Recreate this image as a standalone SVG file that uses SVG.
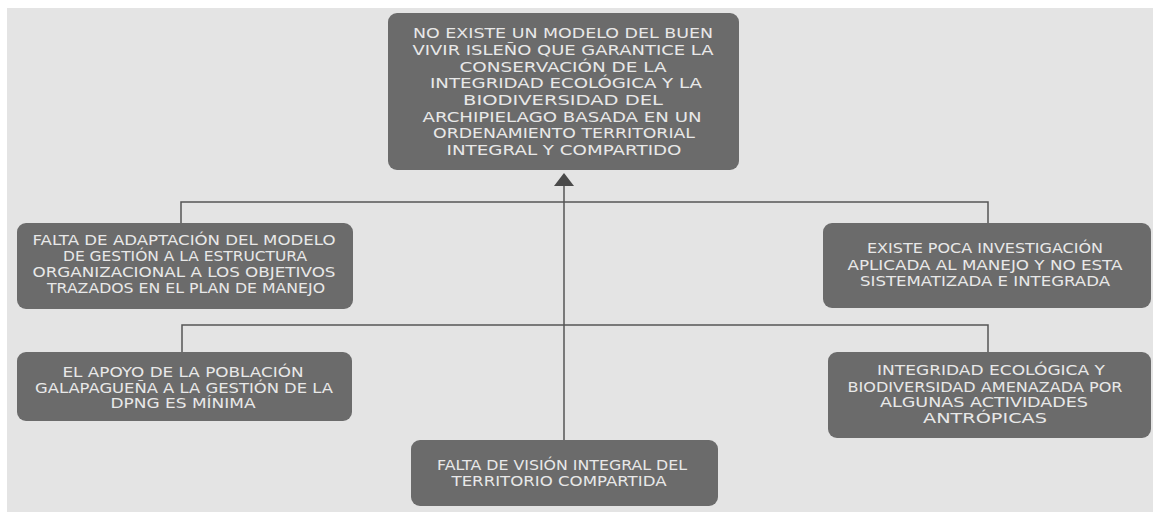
<svg xmlns="http://www.w3.org/2000/svg" width="1153" height="512" viewBox="0 0 1153 512">
<defs>
<style>
.box{fill:#6b6b6b;}
.t{font-family:"DejaVu Sans","Liberation Sans",sans-serif;fill:#e8e8e8;text-anchor:middle;font-size:13.5px;}
.tt{font-size:14.5px;}
.ln{stroke:#565656;stroke-width:1.5;fill:none;}
</style>
</defs>
<rect x="0" y="0" width="1153" height="512" fill="#ffffff"/>
<rect x="7" y="8" width="1146" height="504" fill="#e4e4e4"/>
<g id="connectors">
<polyline class="ln" points="181,223 181,202 988,202 988,223"/>
<polyline class="ln" points="182,352 182,325 988,325 988,352"/>
<line class="ln" x1="564" y1="440" x2="564" y2="185"/>
<polygon points="564,173 554,186 574,186" fill="#4a4a4a"/>
</g>
<g id="n-top">
<rect class="box" x="388" y="13" width="351" height="157" rx="9"/>
<text class="t tt" x="563" y="38" textLength="300" lengthAdjust="spacingAndGlyphs">NO EXISTE UN MODELO DEL BUEN</text>
<text class="t tt" x="563" y="55" textLength="301" lengthAdjust="spacingAndGlyphs">VIVIR ISLEÑO QUE GARANTICE LA</text>
<text class="t tt" x="563" y="71.7" textLength="207" lengthAdjust="spacingAndGlyphs">CONSERVACIÓN DE LA</text>
<text class="t tt" x="566" y="88.3" textLength="272" lengthAdjust="spacingAndGlyphs">INTEGRIDAD ECOLÓGICA Y LA</text>
<text class="t tt" x="563" y="105" textLength="200" lengthAdjust="spacingAndGlyphs">BIODIVERSIDAD DEL</text>
<text class="t tt" x="562" y="121.7" textLength="279" lengthAdjust="spacingAndGlyphs">ARCHIPIELAGO BASADA EN UN</text>
<text class="t tt" x="564" y="138.3" textLength="262" lengthAdjust="spacingAndGlyphs">ORDENAMIENTO TERRITORIAL</text>
<text class="t tt" x="564" y="155" textLength="235" lengthAdjust="spacingAndGlyphs">INTEGRAL Y COMPARTIDO</text>
</g>
<g id="n-left1">
<rect class="box" x="17" y="223" width="336" height="86" rx="9"/>
<text class="t" x="184" y="245" textLength="303" lengthAdjust="spacingAndGlyphs">FALTA DE ADAPTACIÓN DEL MODELO</text>
<text class="t" x="185" y="261" textLength="244" lengthAdjust="spacingAndGlyphs">DE GESTIÓN A LA ESTRUCTURA</text>
<text class="t" x="184" y="277" textLength="303" lengthAdjust="spacingAndGlyphs">ORGANIZACIONAL A LOS OBJETIVOS</text>
<text class="t" x="186" y="293" textLength="278" lengthAdjust="spacingAndGlyphs">TRAZADOS EN EL PLAN DE MANEJO</text>
</g>
<g id="n-right1">
<rect class="box" x="823" y="223" width="328" height="85" rx="9"/>
<text class="t" x="985" y="253" textLength="236" lengthAdjust="spacingAndGlyphs">EXISTE POCA INVESTIGACIÓN</text>
<text class="t" x="985" y="270" textLength="275" lengthAdjust="spacingAndGlyphs">APLICADA AL MANEJO Y NO ESTA</text>
<text class="t" x="985" y="286" textLength="250" lengthAdjust="spacingAndGlyphs">SISTEMATIZADA E INTEGRADA</text>
</g>
<g id="n-left2">
<rect class="box" x="17" y="352" width="335" height="69" rx="9"/>
<text class="t" x="183" y="377" textLength="241" lengthAdjust="spacingAndGlyphs">EL APOYO DE LA POBLACIÓN</text>
<text class="t" x="184" y="393" textLength="298" lengthAdjust="spacingAndGlyphs">GALAPAGUEÑA A LA GESTIÓN DE LA</text>
<text class="t" x="183" y="408" textLength="145" lengthAdjust="spacingAndGlyphs">DPNG ES MÍNIMA</text>
</g>
<g id="n-right2">
<rect class="box" x="828" y="352" width="323" height="86" rx="9"/>
<text class="t" x="991" y="375" textLength="228" lengthAdjust="spacingAndGlyphs">INTEGRIDAD ECOLÓGICA Y</text>
<text class="t" x="985" y="392" textLength="275" lengthAdjust="spacingAndGlyphs">BIODIVERSIDAD AMENAZADA POR</text>
<text class="t" x="984" y="407" textLength="208" lengthAdjust="spacingAndGlyphs">ALGUNAS ACTIVIDADES</text>
<text class="t" x="985" y="423" textLength="124" lengthAdjust="spacingAndGlyphs">ANTRÓPICAS</text>
</g>
<g id="n-bottom">
<rect class="box" x="411" y="440" width="307" height="66" rx="9"/>
<text class="t" x="562" y="470" textLength="250" lengthAdjust="spacingAndGlyphs">FALTA DE VISIÓN INTEGRAL DEL</text>
<text class="t" x="559" y="486" textLength="215" lengthAdjust="spacingAndGlyphs">TERRITORIO COMPARTIDA</text>
</g>
</svg>
